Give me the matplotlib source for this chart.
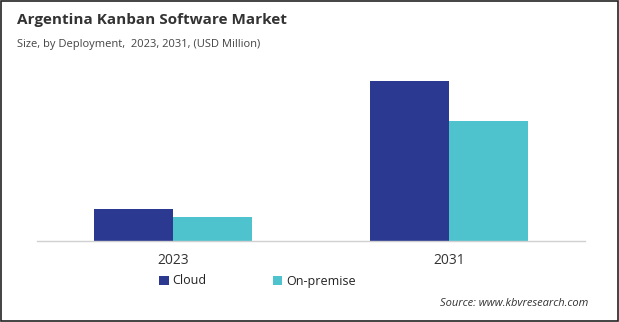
import matplotlib
matplotlib.use('Agg')
import matplotlib.pyplot as plt
from matplotlib.patches import Rectangle
import numpy as np

# data (relative sizes, no axis values shown)
years = ['2023', '2031']
cloud = [32, 160]
on_premise = [24, 120]

plt.rcParams['font.family'] = ['Open Sans', 'DejaVu Sans']

fig = plt.figure(figsize=(6.19, 3.22), dpi=100)
ax = fig.add_axes([37 / 619, 81 / 322, 548 / 619, 171 / 322])

x = np.arange(len(years))
w = 0.285
ax.bar(x - w / 2, cloud, width=w, color='#2b3990', label='Cloud')
ax.bar(x + w / 2, on_premise, width=w, color='#4fc3cd', label='On-premise')

ax.set_xlim(-0.493, 1.493)
ax.set_ylim(0, 171)
ax.set_xticks(x)
ax.set_xticklabels(years, fontsize=10, color='#333333')
ax.tick_params(axis='x', length=0, pad=9)
ax.set_yticks([])
for s in ['top', 'right', 'left']:
    ax.spines[s].set_visible(False)
ax.spines['bottom'].set_color('#d0d0d0')
ax.spines['bottom'].set_linewidth(1)

fig.text(17 / 619, 1 - 20 / 322, 'Argentina Kanban Software Market',
         fontsize=11, fontweight='bold', color='#333333', va='center')
fig.text(17 / 619, 1 - 44 / 322, 'Size, by Deployment,  2023, 2031, (USD Million)',
         fontsize=8, color='#444444', va='center')

ax.legend(loc='center left', bbox_to_anchor=(148 / 619, 1 - 281 / 322),
          bbox_transform=fig.transFigure, ncol=2, frameon=False,
          fontsize=9, handlelength=0.75, handleheight=0.75,
          handletextpad=0.3, columnspacing=5.3, labelcolor='#222222')

fig.text(588 / 619, 1 - 303 / 322, 'Source: www.kbvresearch.com',
         fontsize=8, style='italic', color='#333333', ha='right', va='center')

fig.patches.append(Rectangle((0.001, 0.002), 0.997, 0.995, transform=fig.transFigure,
                             fill=False, edgecolor='#222222', linewidth=1.2))

fig.savefig('out.png', dpi=100)
